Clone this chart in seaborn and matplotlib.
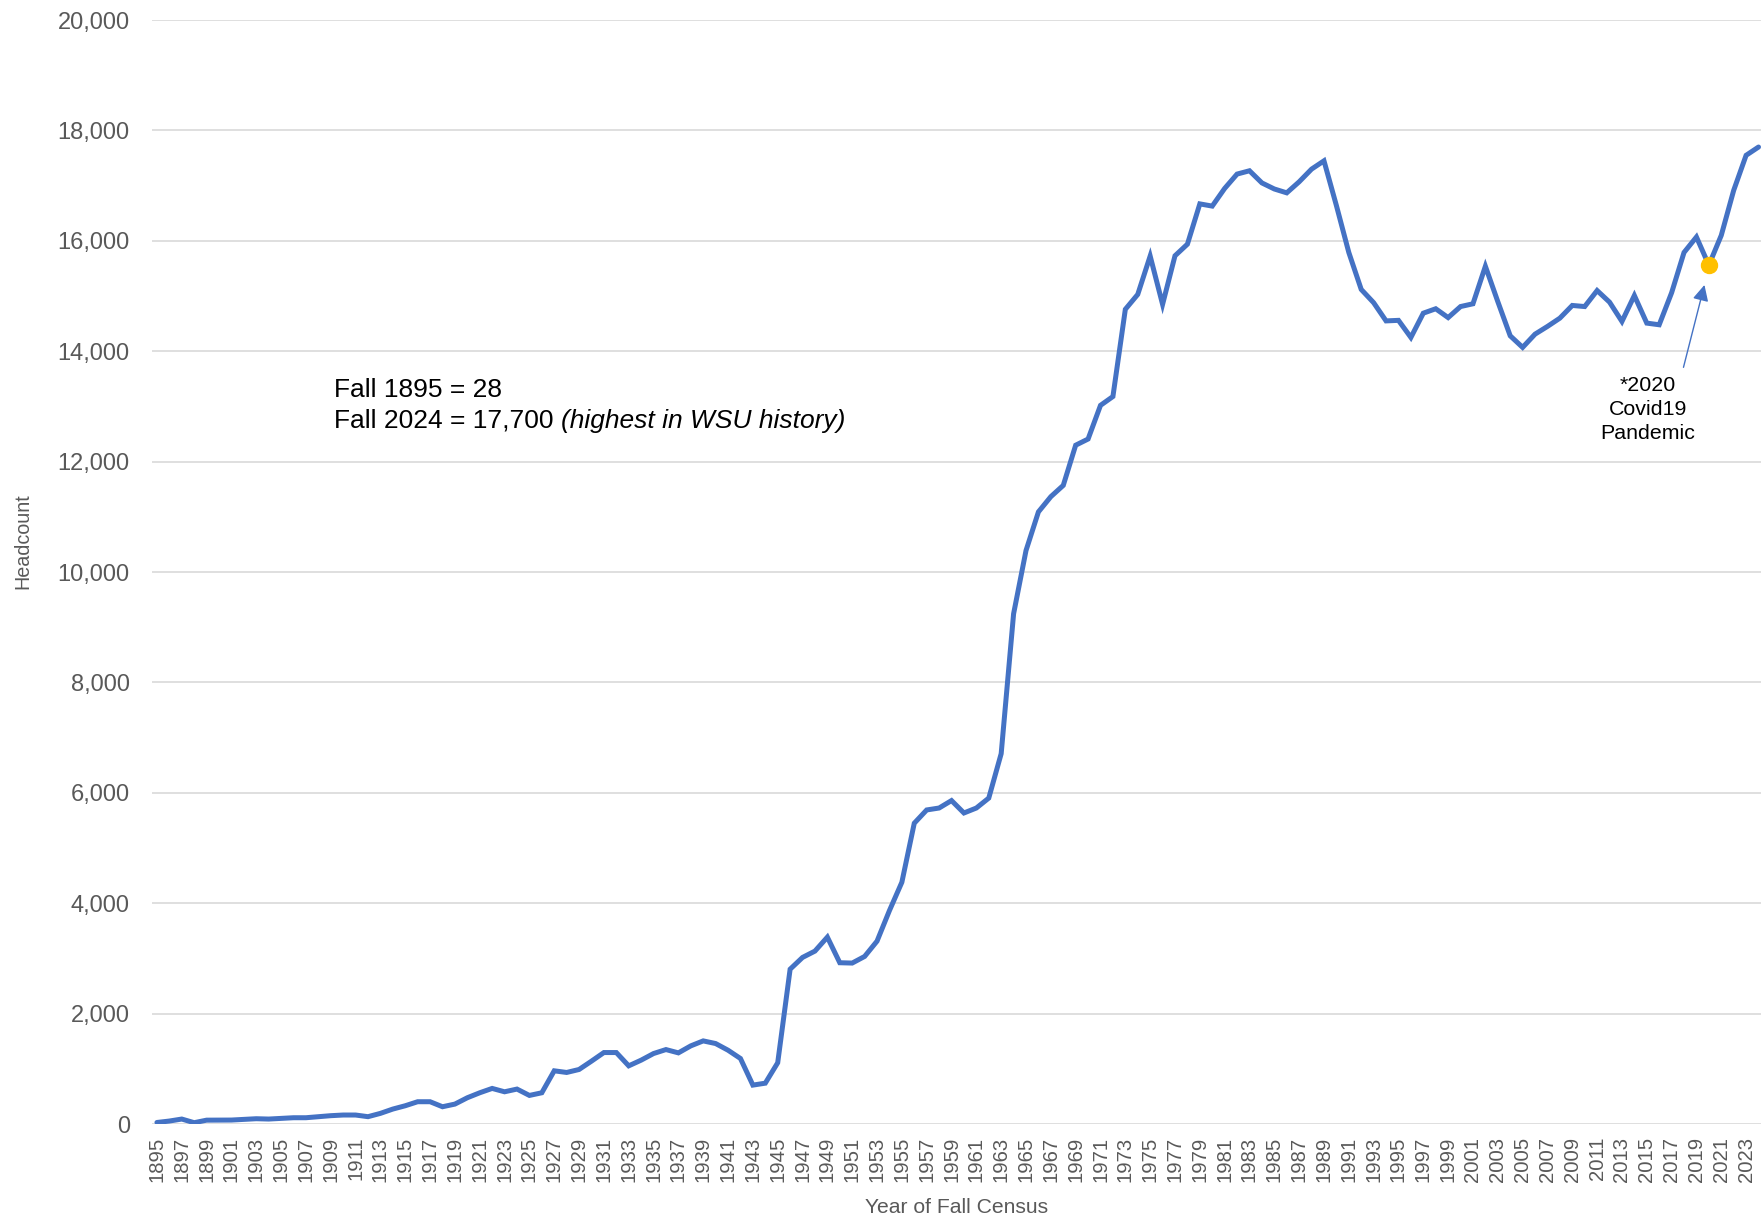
import matplotlib
matplotlib.use("Agg")
import matplotlib.pyplot as plt
import seaborn as sns

years = list(range(1895, 2025))
headcount = [
    28, 54, 90, 24, 70, 72, 72, 84, 96, 90,
    102, 114, 114, 133, 151, 163, 163, 133, 193, 271,
    331, 404, 404, 313, 361, 476, 566, 645, 584, 633,
    518, 566, 964, 934, 988, 1139, 1295, 1295, 1054, 1157,
    1277, 1349, 1289, 1416, 1506, 1458, 1337, 1187, 705, 740,
    1110, 2805, 3018, 3133, 3386, 2922, 2916, 3036, 3313, 3867,
    4380, 5450, 5690, 5725, 5860, 5635, 5725, 5905, 6710, 9244,
    10390, 11090, 11366, 11570, 12298, 12410, 13020, 13180, 14760, 15030,
    15725, 14850, 15730, 15940, 16670, 16630, 16950, 17210, 17270, 17050,
    16940, 16870, 17070, 17300, 17450, 16640, 15790, 15120, 14880, 14550,
    14560, 14250, 14690, 14770, 14610, 14810, 14860, 15540, 14900, 14280,
    14070, 14310, 14450, 14600, 14830, 14810, 15100, 14890, 14540, 15010,
    14510, 14480, 15060, 15790, 16070, 15560, 16100, 16915, 17550, 17700,
]
covid_year = 2020
covid_value = headcount[years.index(covid_year)]
y_ticks = list(range(0, 20001, 2000))
x_ticks = years[::2]

sns.set_theme(style="white")
plt.rcParams["font.family"] = ["Liberation Sans", "DejaVu Sans"]

gray = "#595959"
fig = plt.figure(figsize=(17.61, 12.17), dpi=100)
ax = fig.add_axes([0.0863, 0.0764, 0.9137, 0.9071])

sns.lineplot(x=years, y=headcount, color="#4472C4", linewidth=3.6, ax=ax,
             solid_joinstyle="miter", zorder=3)
ax.plot([covid_year], [covid_value], marker="o", markersize=11.5,
        color="#FFC000", linestyle="none", zorder=4)

ax.set_xlim(1894.6, 2024.2)
ax.set_ylim(0, 20000)
ax.set_yticks(y_ticks)
ax.set_yticklabels([f"{v:,}" for v in y_ticks])
ax.set_xticks(x_ticks)
ax.set_xticklabels([str(y) for y in x_ticks], rotation=90)
ax.tick_params(axis="y", length=0, pad=16, labelsize=17, labelcolor=gray)
ax.tick_params(axis="x", length=0, pad=9, labelsize=14.6, labelcolor=gray)
ax.grid(axis="y", color="#D9D9D9", linewidth=1.2)
ax.grid(axis="x", visible=False)
for s in ax.spines.values():
    s.set_visible(False)

ax.set_xlabel("Year of Fall Census", fontsize=15.2, color=gray, labelpad=11.5)
ax.set_ylabel("Headcount", fontsize=14.2, color=gray)
ax.yaxis.set_label_coords(-0.0741, 0.528)

ax.text(1909.3, 13300, "Fall 1895 = 28", fontsize=19, color="black", va="center")
t = ax.text(1909.3, 12740, "Fall 2024 = 17,700", fontsize=19, color="black", va="center")
ax.annotate("(highest in WSU history)", xy=(1, 0.5), xycoords=t, xytext=(5, 0),
            textcoords="offset points", fontsize=19, style="italic",
            color="black", va="center", ha="left")

ax.annotate("", xy=(2019.7, 15250), xytext=(2017.9, 13660),
            arrowprops=dict(arrowstyle="-|>", color="#4472C4", lw=1.0,
                            mutation_scale=24))
ax.text(2015.1, 13560, "*2020\nCovid19\nPandemic", fontsize=15.4, color="black",
        ha="center", va="top", linespacing=1.35)

fig.savefig("out.png", dpi=100, facecolor="white")
